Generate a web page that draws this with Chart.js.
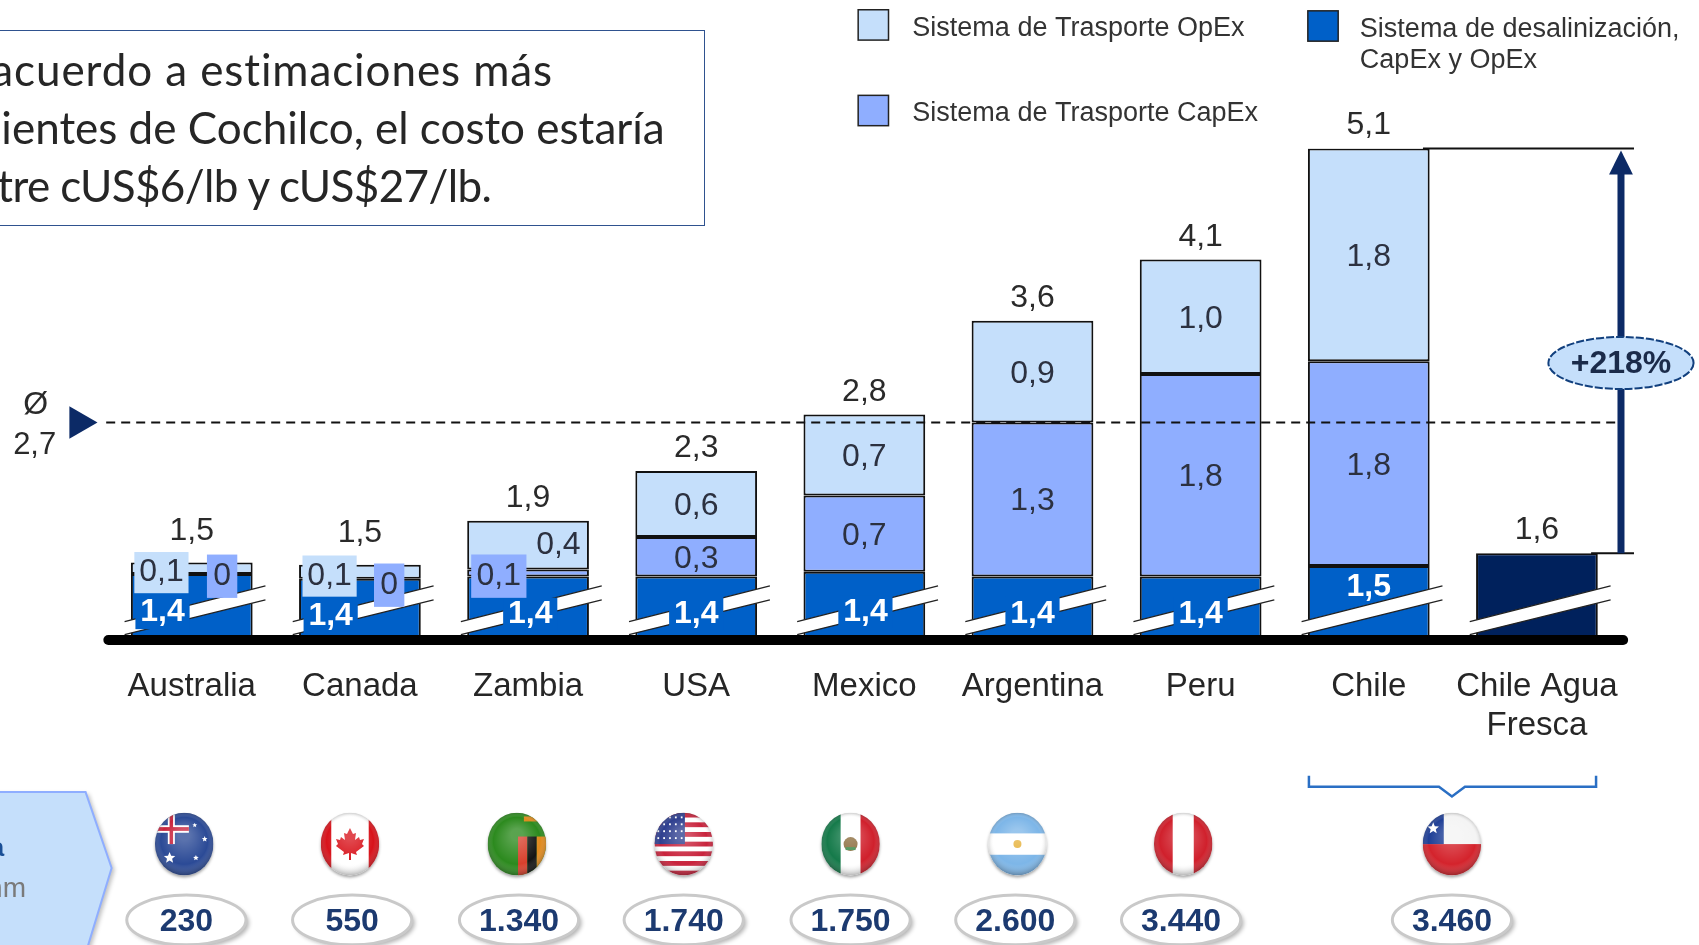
<!DOCTYPE html>
<html><head><meta charset="utf-8">
<style>
html,body{margin:0;padding:0;background:#fff;overflow:hidden;width:1699px;height:945px}
#wrap{position:absolute;left:0;top:0;width:1699px;height:945px}
canvas{display:block;filter:blur(0.5px)}
#box{position:absolute;left:-40px;top:30px;width:745px;height:196px;border:1px solid #2f528f;box-sizing:border-box;
font-family:Lato,sans-serif;font-size:44px;line-height:58px;color:#262626;padding:9px 0 0 0;white-space:nowrap}
#box div{position:relative}
</style></head><body>
<div id="wrap"><canvas id="c" width="1699" height="945"></canvas>
<div id="box"><div style="left:-40px;letter-spacing:.9px">De acuerdo a estimaciones más</div><div style="left:-19px">recientes de Cochilco, el costo estaría</div><div style="left:-10px;letter-spacing:-.6px">entre cUS$6/lb y cUS$27/lb.</div></div></div>
<script src="https://cdn.jsdelivr.net/npm/chart.js@4/dist/chart.umd.min.js"></script>
<script>
const categories=['Australia','Canada','Zambia','USA','Mexico','Argentina','Peru','Chile',['Chile Agua','Fresca']];
const desalinizacion=[1.42,1.38,1.40,1.40,1.44,1.40,1.40,1.49,null];
const transporteCapEx=[0,0,0.06,0.34,0.66,1.33,1.75,1.77,null];
const transporteOpEx=[0.10,0.12,0.42,0.57,0.70,0.88,0.99,1.84,null];
const aguaFresca=[null,null,null,null,null,null,null,null,1.6];
const promedio=2.73;
const incremento='+218%';
const alturas=['230','550','1.340','1.740','1.750','2.600','3.440','3.460'];
const paises=['AU','CA','ZM','US','MX','AR','PE','CL'];

const S=1699/1568, P=v=>v*S;
const C_OP='#c5dffb',C_CAP='#8faeff',C_BASE='#0060c8',C_NAVY='#00215c',TXT='#2a2a2a';
const FONT='"Liberation Sans",Arial,sans-serif';
const fmt=v=>v<0.05?'0':v.toFixed(1).replace('.',',');
const flagX=[170,323,477,631,785,939,1092,1340];
const pillX=[172,325,479,631,785,937,1090,1340];

// offsets (reference px) for the crowded labels: [dx,dy,[bgW,bgH]]
const tweakOp={0:[-28,2,[50,38]],1:[-28,2,[50,38]],2:[28,-2]};
const tweakCap={0:[28,0,[28,40]],1:[27,4,[28,40]],2:[-27,1,[51,40]]};
const tweakBase={0:[-27,-2,[50,32]],1:[-27,2,[50,32]],2:[2,0,[50,30]],4:[1,-2,[50,30]]};
const totalLift={0:29,1:29};

function txt(c,s,x,y,font,col,al){c.font=font;c.fillStyle=col;c.textAlign=al||'center';c.textBaseline='middle';c.fillText(s,x,y);}

function flag(c,code,cx,cy){
 const rx=P(27),ry=P(29);
 c.save();
 c.shadowColor='rgba(0,0,0,.35)';c.shadowBlur=3;c.shadowOffsetY=2;
 c.beginPath();c.ellipse(cx,cy,rx,ry,0,0,7);c.fillStyle='#fff';c.fill();
 c.shadowColor='transparent';
 c.clip();
 const L=cx-rx,T=cy-ry,W=2*rx,H=2*ry;
 const R=(x,y,w,h,f)=>{c.fillStyle=f;c.fillRect(L+x*W,T+y*H,w*W,h*H);};
 const star=(x,y,r,f)=>{c.fillStyle=f;c.beginPath();for(let i=0;i<10;i++){const a=-Math.PI/2+i*Math.PI/5,q=i%2?r*.45:r;c.lineTo(L+x*W+q*Math.cos(a),T+y*H+q*Math.sin(a));}c.fill();};
 if(code==='AU'){R(0,0,1,1,'#2b4a96');R(0,.2,.58,.12,'#fff');R(.22,0,.12,.5,'#fff');R(0,.23,.58,.06,'#c8233c');R(.25,0,.06,.5,'#c8233c');star(.25,.72,6,'#fff');star(.85,.42,3,'#fff');star(.68,.2,2.5,'#fff');star(.7,.72,3,'#fff');}
 if(code==='CA'){R(0,0,1,1,'#fff');R(0,0,.18,1,'#d8131b');R(.82,0,.18,1,'#d8131b');
  const leaf=[[0,-15],[3,-9],[6,-10],[5,-3],[9,-6],[10,-3],[14,-4],[12,1],[14,3],[6,9],[7,12],[1,10],[1,17],[-1,17],[-1,10],[-7,12],[-6,9],[-14,3],[-12,1],[-14,-4],[-10,-3],[-9,-6],[-5,-3],[-6,-10],[-3,-9]];
  c.fillStyle='#d8131b';c.beginPath();leaf.forEach(p=>c.lineTo(cx+p[0],cy-1+p[1]));c.fill();}
 if(code==='ZM'){R(0,0,1,1,'#2c8a1e');R(.52,.38,.16,.62,'#d8402c');R(.68,.38,.16,.62,'#141414');R(.84,.38,.16,.62,'#e08a1e');R(.62,.06,.25,.08,'#e08a1e');}
 if(code==='US'){R(0,0,1,1,'#fff');for(let i=0;i<7;i++)R(0,i/6.5,1,1/13,'#c8233c');R(0,0,.52,.5,'#2f3f8f');for(let a=0;a<4;a++)for(let b=0;b<5;b++){R(.05+b*.1,.06+a*.11,.03,.03,'#fff');}}
 if(code==='MX'){R(0,0,1,1,'#fff');R(0,0,.33,1,'#157a4a');R(.67,0,.33,1,'#d0202c');c.fillStyle='#8a6a3a';c.beginPath();c.ellipse(cx,cy,7,7,0,0,7);c.fill();c.fillStyle='#3f8a4a';c.fillRect(cx-5,cy+3,10,3);}
 if(code==='AR'){R(0,0,1,1,'#fff');R(0,0,1,.33,'#7db6e8');R(0,.67,1,.33,'#7db6e8');c.fillStyle='#e6b23c';c.beginPath();c.arc(cx,cy,4,0,7);c.fill();}
 if(code==='PE'){R(0,0,1,1,'#fff');R(0,0,.32,1,'#d0202c');R(.68,0,.32,1,'#d0202c');}
 if(code==='CL'){R(0,0,1,1,'#f4f4f4');R(0,.5,1,.5,'#d4232c');R(0,0,.36,.5,'#1f3f96');star(.18,.25,6,'#fff');}
 // gloss and rim
 let g=c.createRadialGradient(cx,cy-ry*.3,rx*.2,cx,cy,ry*1.05);
 g.addColorStop(0,'rgba(255,255,255,.22)');g.addColorStop(.65,'rgba(255,255,255,0)');g.addColorStop(1,'rgba(0,0,0,.38)');
 c.fillStyle=g;c.fillRect(L,T,W,H);
 c.restore();
}

const notes={id:'notes',
 afterDatasetsDraw(chart){
  const c=chart.ctx,x=chart.scales.x,y=chart.scales.y,base=y.getPixelForValue(y.min);
  // breaks in the bars
  categories.forEach((_,i)=>{
   const cx=x.getPixelForValue(i),x0=cx-P(62),x1=cx+P(68);
   const yb=base-P(5),yt=base-P(37);
   c.beginPath();c.moveTo(x0,yb-P(12));c.lineTo(x1,yt-P(13));c.lineTo(x1,yt);c.lineTo(x0,yb);c.closePath();
   c.fillStyle='#fff';c.fill();
   c.strokeStyle='#222';c.lineWidth=1.3;
   c.beginPath();c.moveTo(x0,yb-P(12));c.lineTo(x1,yt-P(13));c.moveTo(x0,yb);c.lineTo(x1,yt);c.stroke();
  });
  // axis line
  c.strokeStyle='#000';c.lineWidth=10;c.lineCap='round';
  c.beginPath();c.moveTo(P(100),base);c.lineTo(P(1498),base);c.stroke();c.lineCap='butt';
  // average
  const ya=y.getPixelForValue(promedio);
  c.strokeStyle='#111';c.lineWidth=2;c.setLineDash([9,6]);
  c.beginPath();c.moveTo(P(98),ya);c.lineTo(P(1494),ya);c.stroke();c.setLineDash([]);
  c.fillStyle='#0c2a66';c.beginPath();c.moveTo(P(64),ya-P(15));c.lineTo(P(90),ya);c.lineTo(P(64),ya+P(15));c.fill();
  txt(c,'Ø',P(33),P(374),'32px '+FONT,TXT);
  txt(c,fmt(promedio),P(32),P(411),'31px '+FONT,TXT);
  // increase arrow
  const y5=y.getPixelForValue(5.1),y16=y.getPixelForValue(aguaFresca[8]),ax=P(1496);
  c.strokeStyle='#111';c.lineWidth=2;
  c.beginPath();c.moveTo(x.getPixelForValue(7)+P(50),y5);c.lineTo(P(1508),y5);
  c.moveTo(x.getPixelForValue(8)+P(50),y16);c.lineTo(P(1508),y16);c.stroke();
  c.strokeStyle='#0c2a66';c.lineWidth=7;
  c.beginPath();c.moveTo(ax,y16);c.lineTo(ax,y5+P(20));c.stroke();
  c.fillStyle='#0c2a66';c.beginPath();c.moveTo(ax,y5+2);c.lineTo(ax-P(11),y5+P(24));c.lineTo(ax+P(11),y5+P(24));c.fill();
  c.beginPath();c.ellipse(ax,P(335),P(67),P(24),0,0,7);c.fillStyle=C_OP;c.fill();
  c.strokeStyle='#12407e';c.lineWidth=2;c.setLineDash([8,2]);c.stroke();c.setLineDash([]);
  txt(c,incremento,ax,P(336),'bold 32px '+FONT,'#1b2b4a');
  // value labels
  categories.forEach((_,i)=>{
   const cx=x.getPixelForValue(i);
   const sum=[desalinizacion,transporteCapEx,transporteOpEx,aguaFresca].reduce((a,s)=>a+(s[i]||0),0);
   txt(c,fmt(sum),cx,y.getPixelForValue(sum)-P(totalLift[i]||21),'32px '+FONT,TXT);
   let cum=0;
   [[desalinizacion,tweakBase,C_BASE,'#fff'],[transporteCapEx,tweakCap,C_CAP,'#2c3140'],[transporteOpEx,tweakOp,C_OP,'#2c3140']].forEach(([s,tw,bg,col],k)=>{
    const v=s[i];if(v==null)return;
    let px=cx,py=(k===0?base-P(26):y.getPixelForValue(cum+v/2))+P(2);cum+=v;
    const t=tw[i];
    if(t){px+=P(t[0]);py+=P(t[1]);if(t[2]){c.fillStyle=bg;c.fillRect(px-P(t[2][0]/2),py-P(t[2][1]/2),P(t[2][0]),P(t[2][1]));}}
    else if(k===0&&i!==7){c.fillStyle=bg;c.fillRect(px-P(25),py-P(16),P(50),P(30));}
    if(k===0&&i===7)py=y.getPixelForValue(v)+P(20);
    txt(c,fmt(v),px,py,(k===0?'bold ':'')+'32px '+FONT,col);
   });
  });
  // legend
  const key=(xx,yy,col,lines)=>{c.fillStyle=col;c.strokeStyle='#222';c.lineWidth=1.5;c.fillRect(P(xx),P(yy),P(28),P(28));c.strokeRect(P(xx),P(yy),P(28),P(28));
   lines.forEach((l,n)=>txt(c,l,P(xx+50-(xx>1000?2:0)),P(yy+17+n*29),'27px '+FONT,'#333','left'));};
  key(792,9,C_OP,['Sistema de Trasporte OpEx']);
  key(792,88,C_CAP,['Sistema de Trasporte CapEx']);
  key(1207,10,C_BASE,['Sistema de desalinización,','CapEx y OpEx']);
  // Chile bracket
  c.strokeStyle='#2a6fc4';c.lineWidth=2.5;
  c.beginPath();c.moveTo(P(1208),P(716));c.lineTo(P(1208),P(726));c.lineTo(P(1328),P(726));c.lineTo(P(1340),P(735));c.lineTo(P(1352),P(726));c.lineTo(P(1473),P(726));c.lineTo(P(1473),P(716));c.stroke();
  // altitude arrow tag
  c.save();c.shadowColor='rgba(0,0,0,.25)';c.shadowBlur=4;c.shadowOffsetX=3;c.shadowOffsetY=2;
  c.beginPath();c.moveTo(-5,P(731));c.lineTo(P(79),P(731));c.lineTo(P(103),P(801));c.lineTo(P(79),P(880));c.lineTo(-5,P(880));c.closePath();
  c.fillStyle=C_OP;c.fill();c.restore();c.strokeStyle='#8faeff';c.lineWidth=2;c.stroke();
  txt(c,'Altura',P(4),P(783),'bold 26px '+FONT,'#1a4f96','right');
  txt(c,'msnm',P(24),P(821),'28px '+FONT,'#7a7a7a','right');
  // flags and altitude pills
  paises.forEach((p,i)=>flag(c,p,P(flagX[i]),P(779)));
  alturas.forEach((a,i)=>{
   const px=P(pillX[i]),py=P(849);
   c.save();c.shadowColor='rgba(0,0,0,.3)';c.shadowBlur=4;c.shadowOffsetX=3;c.shadowOffsetY=3;
   c.beginPath();c.ellipse(px,py,P(55),P(23),0,0,7);c.fillStyle='#fff';c.fill();c.restore();
   c.strokeStyle='#c9c9c9';c.lineWidth=3;c.stroke();
   txt(c,a,px,py+P(2),'bold 32px '+FONT,'#1c3a70');
  });
 }};

new Chart(document.getElementById('c'),{
 type:'bar',
 data:{labels:categories,datasets:[
  {label:'Sistema de desalinización, CapEx y OpEx',data:desalinizacion,backgroundColor:C_BASE},
  {label:'Sistema de Trasporte CapEx',data:transporteCapEx,backgroundColor:C_CAP},
  {label:'Sistema de Trasporte OpEx',data:transporteOpEx,backgroundColor:C_OP},
  {label:'Chile Agua Fresca',data:aguaFresca,backgroundColor:C_NAVY}
 ].map(d=>Object.assign(d,{borderColor:'#111',borderWidth:2,borderSkipped:false,barPercentage:.724,categoryPercentage:1}))},
 options:{responsive:false,animation:false,
  layout:{padding:{left:107.7,right:78,top:148.4,bottom:0}},
  plugins:{legend:{display:false},tooltip:{enabled:false}},
  scales:{
   x:{stacked:true,grid:{display:false,drawTicks:false},border:{display:false},
      afterFit(s){s.height=305;},
      ticks:{font:{family:'Liberation Sans',size:33},color:'#262626',padding:27,maxRotation:0,autoSkip:false}},
   y:{stacked:true,display:false,min:0.85,max:5.1}
  }},
 plugins:[notes]
});
</script></body></html>
